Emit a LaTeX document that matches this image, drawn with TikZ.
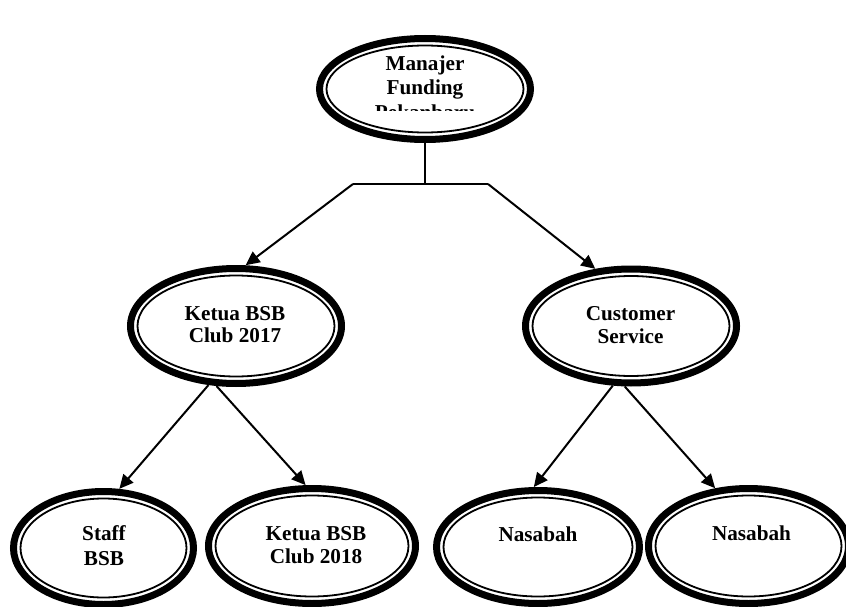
\documentclass[tikz,border=0pt]{standalone}
\usepackage{fontspec}
\setmainfont{Liberation Serif}
\usetikzlibrary{shapes.geometric,arrows.meta}
\tikzset{
  oval/.style={ellipse, draw, line width=7pt, inner sep=0pt},
  inner oval/.style={line width=1.8pt},
  lbl/.style={font=\bfseries\fontsize{21.2}{22.5}\selectfont, align=center, inner sep=0pt, anchor=base},
  wide lbl/.style={lbl, font=\bfseries\fontsize{21.2}{24.3}\selectfont},
  conn/.style={line width=2pt},
  arr/.style={conn, -{Triangle[length=14pt,width=13pt]}}
}
\newcommand{\ovalnode}[5]{%
  \node[oval, minimum width={2*(#3-3.5)*1pt}, minimum height={2*(#4-3.5)*1pt}] (#1) at (#2) {};
  \draw[inner oval] (#1.center) ellipse [x radius={(#3-10.5)*1pt}, y radius={(#4-10.5)*1pt}];
}
\begin{document}
\begin{tikzpicture}[x=1pt,y=-1pt]
\useasboundingbox (0,0) rectangle (846,607);
% ellipses
\ovalnode{m}{425,89}{109}{54}{}
\ovalnode{k17}{236,326}{109}{61}{}
\ovalnode{cs}{631,326}{109}{60.5}{}
\ovalnode{st}{103.5,548}{93.5}{60}{}
\ovalnode{k18}{312,546}{107}{61}{}
\ovalnode{n1}{538,547}{105}{60}{}
\ovalnode{n2}{748.5,546}{103.5}{61}{}
% texts (anchored at the baseline of the last line)
\begin{scope}
\clip (300,30) rectangle (550,111);
\node[wide lbl] (mt) at (425,119.3) {Manajer\\Funding\\Pekanbaru};
\end{scope}
\node[lbl] (k17t) at (235,342.7) {Ketua BSB\\Club 2017};
\node[lbl] (cst) at (630.5,343) {Customer\\Service};
\node[wide lbl] (stt) at (104,565) {Staff\\BSB};
\node[lbl] (k18t) at (316,563) {Ketua BSB\\Club 2018};
\node[lbl] (n1t) at (538,541.5) {Nasabah};
\node[lbl] (n2t) at (751.5,540) {Nasabah};
% connectors
\coordinate (j) at (425,184);
\coordinate (jl) at (353,184);
\coordinate (jr) at (488,184);
\draw[conn] (m.south) -- (j);
\draw[conn] (jl) -- (jr);
\draw[arr] (jl) -- (k17.81.6);
\draw[arr] (jr) -- (cs.122.3);
\draw[arr] (k17.245.3) -- (st.75.3);
\draw[arr] (k17.252.7) -- (k18.96.5);
\draw[arr] (cs.253.6) -- (n1.94.8);
\draw[arr] (cs.264.4) -- (n2.120.2);
\end{tikzpicture}
\end{document}
